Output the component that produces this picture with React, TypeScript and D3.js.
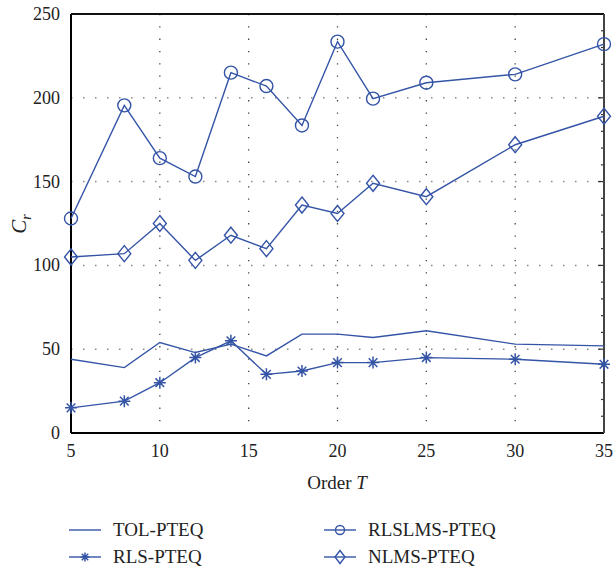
import { useRef, useEffect } from "react";
import * as d3 from "d3";

const orders = [5, 8, 10, 12, 14, 16, 18, 20, 22, 25, 30, 35];
const tolPteq = [44, 39, 54, 48, 53, 46, 59, 59, 57, 61, 53, 52];
const rlsPteq = [15, 19, 30, 45, 55, 35, 37, 42, 42, 45, 44, 41];
const rlslmsPteq = [128, 195.5, 164, 153, 215, 207, 183.5, 233.5, 199.5, 209, 214, 232];
const nlmsPteq = [105, 107, 125, 103, 118, 110, 136, 131, 149, 141, 172, 189];
const xTicks = [5, 10, 15, 20, 25, 30, 35];
const yTicks = [0, 50, 100, 150, 200, 250];

const W = 613;
const H = 569;
const BLUE = "#3454a6";
const FONT = "'Liberation Serif', 'DejaVu Serif', serif";

export default function App() {
  const svgRef = useRef(null);

  useEffect(() => {
    const svg = d3.select(svgRef.current);
    svg.selectAll("*").remove();

    const m = { left: 71, right: 604, top: 14, bottom: 433 };
    const x = d3.scaleLinear().domain([5, 35]).range([m.left, m.right]);
    const y = d3.scaleLinear().domain([0, 250]).range([m.bottom, m.top]);

    const g = svg.append("g");

    // grid
    g.selectAll(".gx")
      .data(xTicks.slice(1, -1))
      .enter()
      .append("line")
      .attr("x1", (d) => x(d)).attr("x2", (d) => x(d))
      .attr("y1", m.top).attr("y2", m.bottom)
      .attr("stroke", "#444")
      .attr("stroke-width", 1.3)
      .attr("stroke-dasharray", "1.3,11");
    g.selectAll(".gy")
      .data(yTicks.slice(1, -1))
      .enter()
      .append("line")
      .attr("x1", m.left).attr("x2", m.right)
      .attr("y1", (d) => y(d)).attr("y2", (d) => y(d))
      .attr("stroke", "#888")
      .attr("stroke-width", 1.5)
      .attr("stroke-dasharray", "1.5,10.5");

    // right-side minor/major ticks
    const minor = d3.range(0, 251, 10);
    g.selectAll(".rt")
      .data(minor)
      .enter()
      .append("line")
      .attr("x1", m.right).attr("x2", (d) => (d % 50 === 0 ? m.right - 6 : m.right - 3))
      .attr("y1", (d) => y(d)).attr("y2", (d) => y(d))
      .attr("stroke", "#333")
      .attr("stroke-width", 1.2);

    // axes box
    g.append("line").attr("x1", m.left).attr("x2", m.left).attr("y1", m.top).attr("y2", m.bottom)
      .attr("stroke", "#000").attr("stroke-width", 2);
    g.append("line").attr("x1", m.left).attr("x2", m.right).attr("y1", m.bottom).attr("y2", m.bottom)
      .attr("stroke", "#000").attr("stroke-width", 2);
    g.append("line").attr("x1", m.left).attr("x2", m.right).attr("y1", m.top).attr("y2", m.top)
      .attr("stroke", "#111").attr("stroke-width", 2);
    g.append("line").attr("x1", m.right).attr("x2", m.right).attr("y1", m.top).attr("y2", m.bottom)
      .attr("stroke", "#444").attr("stroke-width", 2);

    // tick labels
    g.selectAll(".xl")
      .data(xTicks)
      .enter()
      .append("text")
      .attr("x", (d) => x(d))
      .attr("y", 457)
      .attr("text-anchor", "middle")
      .attr("font-family", FONT)
      .attr("font-size", 18)
      .attr("fill", "#222")
      .text((d) => d);
    g.selectAll(".yl")
      .data(yTicks)
      .enter()
      .append("text")
      .attr("x", 60)
      .attr("y", (d) => y(d) + 6)
      .attr("text-anchor", "end")
      .attr("font-family", FONT)
      .attr("font-size", 18)
      .attr("fill", "#222")
      .text((d) => d);

    // axis titles
    const xt = g.append("text")
      .attr("x", 337).attr("y", 489)
      .attr("text-anchor", "middle")
      .attr("font-family", FONT).attr("font-size", 19).attr("fill", "#222");
    xt.append("tspan").text("Order ");
    xt.append("tspan").attr("font-style", "italic").text("T");
    const yt = g.append("text")
      .attr("transform", "translate(26,224) rotate(-90)")
      .attr("text-anchor", "middle")
      .attr("font-family", FONT).attr("font-size", 21).attr("fill", "#222");
    yt.append("tspan").attr("font-style", "italic").text("C");
    yt.append("tspan").attr("font-style", "italic").attr("font-size", 14).attr("dy", 5).text("r");

    const line = d3.line<number>().x((_, i) => x(orders[i])).y((d) => y(d));

    const seriesList = [tolPteq, rlsPteq, rlslmsPteq, nlmsPteq];
    seriesList.forEach((s) => {
      g.append("path")
        .attr("d", line(s))
        .attr("fill", "none")
        .attr("stroke", BLUE)
        .attr("stroke-width", 1.4);
    });

    const star = (sel: any, cx: number, cy: number, r: number) => {
      const a = r * 0.72;
      const p = `M${cx - r},${cy}L${cx + r},${cy}M${cx},${cy - r}L${cx},${cy + r}` +
        `M${cx - a},${cy - a}L${cx + a},${cy + a}M${cx - a},${cy + a}L${cx + a},${cy - a}`;
      sel.append("path").attr("d", p).attr("stroke", BLUE).attr("stroke-width", 1.5).attr("fill", "none");
    };
    const circle = (sel: any, cx: number, cy: number, r: number) => {
      sel.append("circle").attr("cx", cx).attr("cy", cy).attr("r", r)
        .attr("fill", "none").attr("stroke", BLUE).attr("stroke-width", 1.4);
    };
    const diamond = (sel: any, cx: number, cy: number, w: number, h: number) => {
      sel.append("path")
        .attr("d", `M${cx},${cy - h}L${cx + w},${cy}L${cx},${cy + h}L${cx - w},${cy}Z`)
        .attr("fill", "none").attr("stroke", BLUE).attr("stroke-width", 1.4);
    };

    rlsPteq.forEach((d, i) => star(g, x(orders[i]), y(d), 6));
    rlslmsPteq.forEach((d, i) => circle(g, x(orders[i]), y(d), 6.5));
    nlmsPteq.forEach((d, i) => diamond(g, x(orders[i]), y(d), 6.5, 8));

    // legend
    const legend = [
      { name: "TOL-PTEQ", lx: 69, ly: 530, mk: "none" },
      { name: "RLS-PTEQ", lx: 69, ly: 557, mk: "star" },
      { name: "RLSLMS-PTEQ", lx: 324, ly: 530, mk: "circle" },
      { name: "NLMS-PTEQ", lx: 324, ly: 557, mk: "diamond" },
    ];
    legend.forEach((l) => {
      g.append("line").attr("x1", l.lx).attr("x2", l.lx + 32).attr("y1", l.ly).attr("y2", l.ly)
        .attr("stroke", BLUE).attr("stroke-width", 1.4);
      const cx = l.lx + 16;
      if (l.mk === "star") star(g, cx, l.ly, 4.5);
      if (l.mk === "circle") circle(g, cx, l.ly, 4.5);
      if (l.mk === "diamond") diamond(g, cx, l.ly, 5, 6.5);
      g.append("text")
        .attr("x", l.lx + 44)
        .attr("y", l.ly + 6)
        .attr("font-family", FONT)
        .attr("font-size", 19)
        .attr("fill", "#222")
        .text(l.name);
    });
  }, []);

  return (
    <svg
      ref={svgRef}
      width={W}
      height={H}
      style={{ position: "absolute", left: 0, top: 0, background: "#fff" }}
    />
  );
}
